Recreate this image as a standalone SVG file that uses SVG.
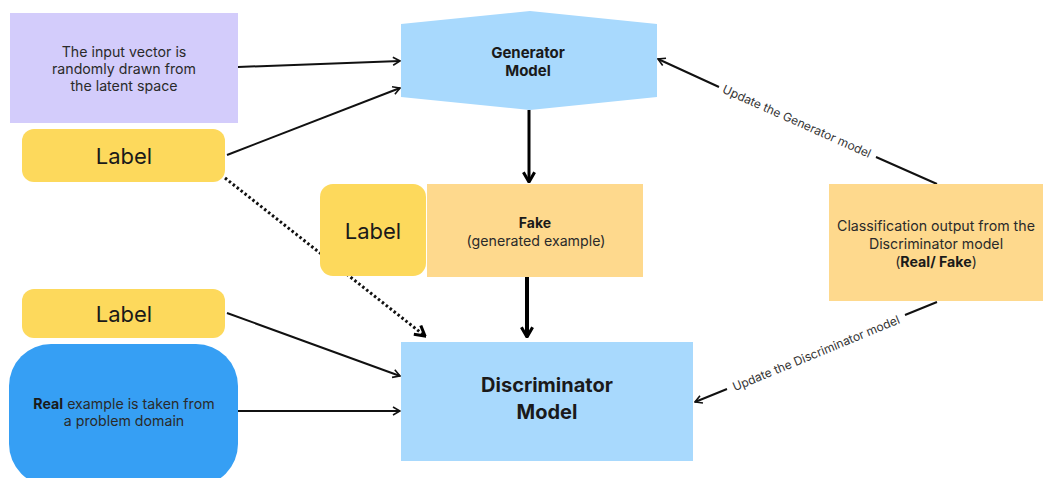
<svg xmlns="http://www.w3.org/2000/svg" width="1043" height="478" viewBox="0 0 1043 478">
<defs>
<marker id="arr" viewBox="0 0 10 10" refX="9" refY="5" markerWidth="10" markerHeight="10" markerUnits="userSpaceOnUse" orient="auto">
<path d="M2,1 L9,5 L2,9" fill="none" stroke="#111" stroke-width="1.6"/>
</marker>
<marker id="arrB" viewBox="0 0 10 10" refX="9" refY="5" markerWidth="14" markerHeight="14" markerUnits="userSpaceOnUse" orient="auto">
<path d="M2,1 L9,5 L2,9" fill="none" stroke="#000" stroke-width="2.2"/>
</marker>
</defs>
<style>
text{font-family:"Inter","Noto Sans","Liberation Sans",sans-serif;fill:#2a2a2a;text-anchor:middle;dominant-baseline:central}
.t13{font-size:14.2px}
.lab{font-size:22px;fill:#1a1a1a}
.b{font-weight:bold;fill:#1a1a1a}
.edge{fill:none;stroke:#111;stroke-width:2}
.small{font-size:12px;fill:#333}
.yel{fill:#FDD95C}
.blue{fill:#A8D9FD}
</style>
<rect width="1043" height="478" fill="#fff"/>

<g id="connectors">
<line class="edge" x1="238" y1="67" x2="400" y2="61" marker-end="url(#arr)"/>
<line class="edge" x1="227" y1="155" x2="400" y2="88" marker-end="url(#arr)"/>
<line x1="529" y1="110" x2="529" y2="182" stroke="#000" stroke-width="3" marker-end="url(#arrB)"/>
<line x1="527" y1="277" x2="527" y2="337" stroke="#000" stroke-width="4" marker-end="url(#arrB)"/>
<line x1="225" y1="178" x2="425" y2="336" stroke="#111" stroke-width="3" stroke-dasharray="2.5 2.5" marker-end="url(#arrB)"/>
<line class="edge" x1="227" y1="313" x2="400" y2="376" marker-end="url(#arr)"/>
<line class="edge" x1="238" y1="411" x2="400" y2="411" marker-end="url(#arr)"/>
<path class="edge" d="M937,184 L876,157 M719,87 L658,59" marker-end="url(#arr)"/>
<text class="small" transform="translate(797,121) rotate(24.06)">Update the Generator model</text>
<path class="edge" d="M937,302 L905,315 M727,389 L695,402" marker-end="url(#arr)"/>
<text class="small" transform="translate(816,353) rotate(-22.4)">Update the Discriminator model</text>
</g>

<g id="input-vector">
<rect x="10" y="13" width="228" height="110" fill="#D3CCFB"/>
<text class="t13" x="124" y="51">The input vector is</text>
<text class="t13" x="124" y="68">randomly drawn from</text>
<text class="t13" x="124" y="85">the latent space</text>
</g>

<g id="label-1">
<rect class="yel" x="22" y="129" width="203" height="53" rx="12"/>
<text class="lab" x="124" y="156">Label</text>
</g>

<g id="generator">
<polygon class="blue" points="401,24 530,11 657,24 657,97 530,110 401,97"/>
<text class="b" style="font-size:15px" x="528" y="52">Generator</text>
<text class="b" style="font-size:15px" x="528" y="70">Model</text>
</g>

<g id="label-2">
<rect class="yel" x="320" y="184" width="106" height="92" rx="13"/>
<text class="lab" x="373" y="231">Label</text>
</g>

<g id="fake">
<rect x="427" y="184" width="216" height="93" fill="#FED98D"/>
<text class="b" style="font-size:14px" x="535" y="222">Fake</text>
<text class="t13" x="536" y="240">(generated example)</text>
</g>

<g id="label-3">
<rect class="yel" x="22" y="289" width="203" height="49" rx="12"/>
<text class="lab" x="124" y="314">Label</text>
</g>

<g id="real">
<rect x="9" y="344" width="229" height="142" rx="42" fill="#369FF4"/>
<text class="t13" x="124" y="403"><tspan class="b">Real</tspan> example is taken from</text>
<text class="t13" x="124" y="420">a problem domain</text>
</g>

<g id="discriminator">
<rect class="blue" x="401" y="342" width="292" height="119"/>
<text class="b" style="font-size:20px" x="547" y="385">Discriminator</text>
<text class="b" style="font-size:20px" x="547" y="412">Model</text>
</g>

<g id="classification">
<rect x="829" y="184" width="214" height="117" fill="#FED98D"/>
<text class="t13" x="936" y="225">Classification output from the</text>
<text class="t13" x="936" y="243">Discriminator model</text>
<text class="t13" x="936" y="261">(<tspan class="b">Real/ Fake</tspan>)</text>
</g>
</svg>
